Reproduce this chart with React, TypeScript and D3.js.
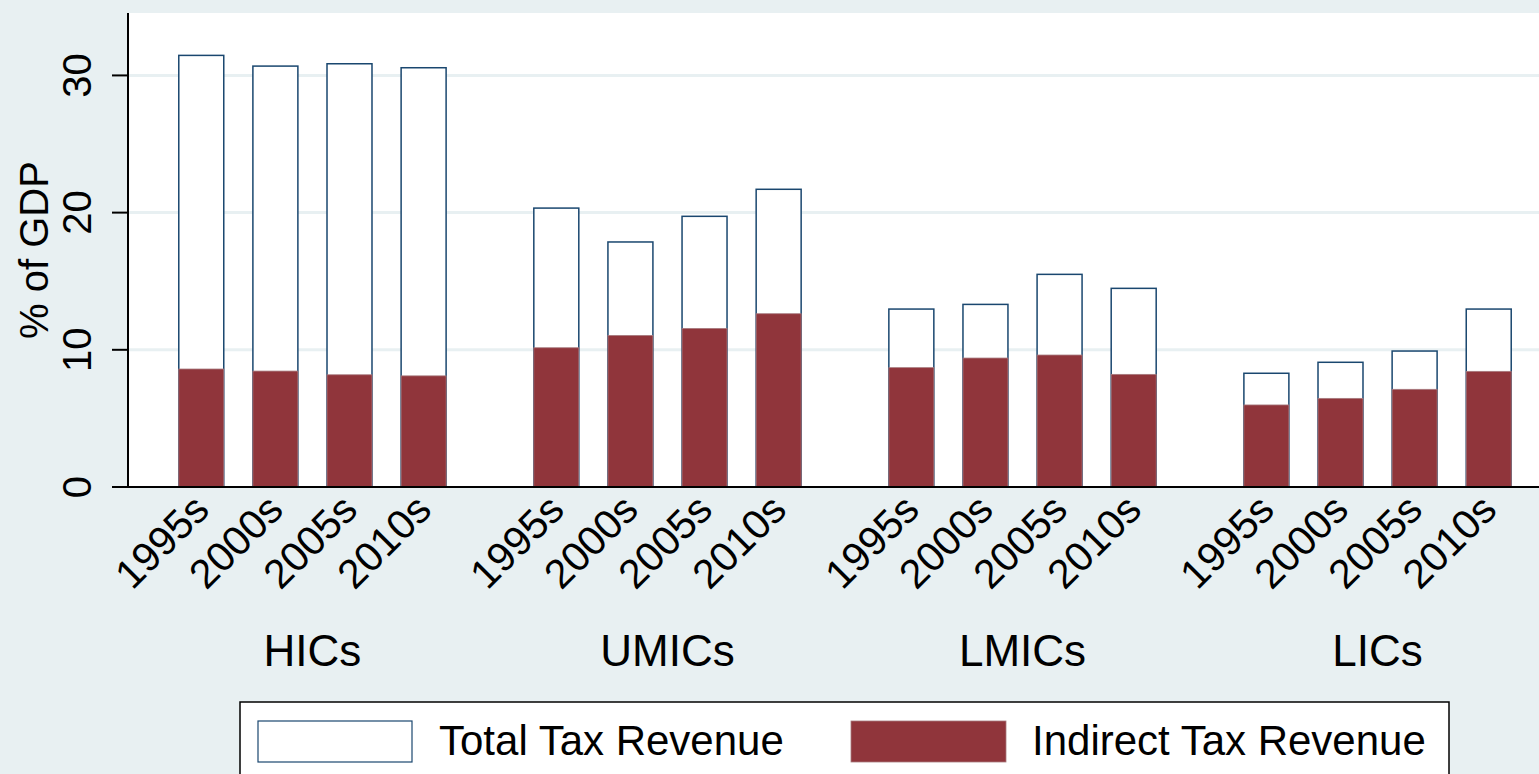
import React from "react";
import * as d3 from "d3";

const groups = ["HICs", "UMICs", "LMICs", "LICs"];
const periods = ["1995s", "2000s", "2005s", "2010s"];

const totalHICs = [31.46, 30.68, 30.85, 30.56];
const totalUMICs = [20.33, 17.86, 19.73, 21.7];
const totalLMICs = [12.97, 13.31, 15.5, 14.48];
const totalLICs = [8.29, 9.09, 9.91, 12.97];

const indirectHICs = [8.6, 8.45, 8.18, 8.1];
const indirectUMICs = [10.15, 11.05, 11.56, 12.63];
const indirectLMICs = [8.7, 9.4, 9.62, 8.21];
const indirectLICs = [5.98, 6.46, 7.12, 8.43];

const yTicks = [0, 10, 20, 30];
const legendLabels = ["Total Tax Revenue", "Indirect Tax Revenue"];

const totals = [totalHICs, totalUMICs, totalLMICs, totalLICs];
const indirects = [indirectHICs, indirectUMICs, indirectLMICs, indirectLICs];

const W = 1539;
const H = 774;
const BG = "#e8f0f2";
const NAVY = "#1a476f";
const MAROON = "#90353b";
const FONT = "'Liberation Sans', Arial, Helvetica, sans-serif";

export default function App() {
  const plotLeft = 128;
  const plotTop = 13;
  const plotBottom = 487;

  const y = d3.scaleLinear().domain([0, 34.55]).range([plotBottom, plotTop]);
  const xGroup = d3
    .scaleBand<string>()
    .domain(groups)
    .range([plotLeft, 1562])
    .paddingInner(0.165)
    .paddingOuter(0.102);
  const xInner = d3
    .scaleBand<string>()
    .domain(periods)
    .range([0, xGroup.bandwidth()])
    .paddingInner(0.393)
    .paddingOuter(0.1965);

  return (
    <svg
      width={W}
      height={H}
      style={{ position: "absolute", left: 0, top: 0, display: "block" }}
      fontFamily={FONT}
    >
      <rect x={0} y={0} width={W} height={H} fill={BG} />
      <rect x={plotLeft} y={plotTop} width={W - plotLeft} height={plotBottom - plotTop} fill="#ffffff" />

      {/* gridlines */}
      {yTicks
        .filter((t) => t > 0)
        .map((t) => (
          <line key={"g" + t} x1={plotLeft} x2={W} y1={y(t)} y2={y(t)} stroke={BG} strokeWidth={3} />
        ))}

      {/* bars */}
      {groups.map((g, gi) =>
        periods.map((p, pi) => {
          const x0 = (xGroup(g) as number) + (xInner(p) as number);
          const bw = xInner.bandwidth();
          return (
            <g key={g + p}>
              <rect
                x={x0}
                y={y(totals[gi][pi])}
                width={bw}
                height={y(0) - y(totals[gi][pi])}
                fill="#ffffff"
                stroke={NAVY}
                strokeWidth={1.5}
              />
              <rect
                x={x0}
                y={y(indirects[gi][pi])}
                width={bw}
                height={y(0) - y(indirects[gi][pi])}
                fill={MAROON}
                stroke="#a77a7e"
                strokeWidth={0.8}
              />
            </g>
          );
        })
      )}

      {/* axes */}
      <line x1={plotLeft} x2={plotLeft} y1={plotTop} y2={plotBottom} stroke="#000" strokeWidth={2} />
      <line x1={112} x2={W} y1={plotBottom} y2={plotBottom} stroke="#000" strokeWidth={2} />
      {yTicks.map((t) => (
        <g key={"t" + t}>
          <line x1={112} x2={plotLeft} y1={y(t)} y2={y(t)} stroke="#000" strokeWidth={2} />
          <text
            transform={`translate(91,${y(t)}) rotate(-90)`}
            textAnchor="middle"
            fontSize={40}
            fill="#000"
          >
            {t}
          </text>
        </g>
      ))}
      <text
        transform={`translate(48,${(plotTop + plotBottom) / 2}) rotate(-90)`}
        textAnchor="middle"
        fontSize={40}
        fill="#000"
      >
        % of GDP
      </text>

      {/* x labels */}
      {groups.map((g) =>
        periods.map((p) => {
          const cx = (xGroup(g) as number) + (xInner(p) as number) + xInner.bandwidth() / 2;
          return (
            <text
              key={"l" + g + p}
              transform={`translate(${cx},502) rotate(-45)`}
              textAnchor="end"
              dominantBaseline="central"
              fontSize={41}
              fill="#000"
            >
              {p}
            </text>
          );
        })
      )}
      {groups.map((g) => (
        <text
          key={"gl" + g}
          x={(xGroup(g) as number) + xGroup.bandwidth() / 2}
          y={666}
          textAnchor="middle"
          fontSize={44}
          fill="#000"
        >
          {g}
        </text>
      ))}

      {/* legend */}
      <rect x={240} y={702} width={1209} height={90} fill="#ffffff" stroke="#000" strokeWidth={1.5} />
      <rect x={258} y={721} width={154} height={41} fill="#ffffff" stroke={NAVY} strokeWidth={1.2} />
      <text x={439} y={755} fontSize={42} fill="#000">
        {legendLabels[0]}
      </text>
      <rect x={851} y={721} width={155} height={41} fill={MAROON} stroke="#a77a7e" strokeWidth={0.8} />
      <text x={1032} y={755} fontSize={42} fill="#000">
        {legendLabels[1]}
      </text>
    </svg>
  );
}
